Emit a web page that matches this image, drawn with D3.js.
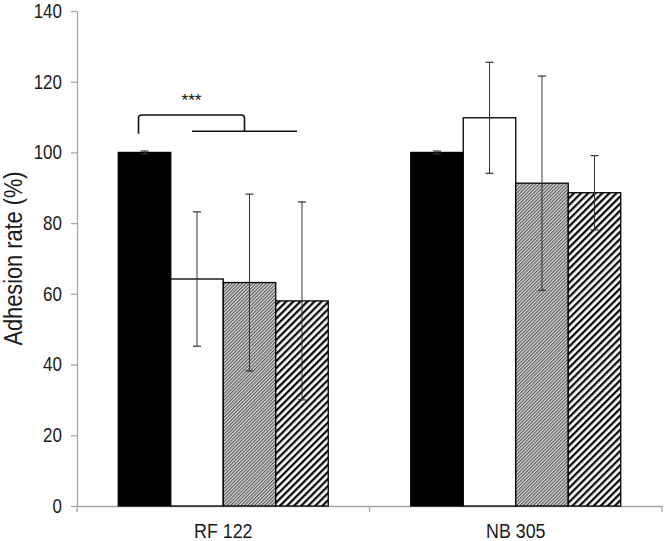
<!DOCTYPE html>
<html>
<head>
<meta charset="utf-8">
<script src="https://cdn.jsdelivr.net/npm/d3@7"></script>
<style>
  body { margin: 0; background: #fff; }
  text { font-family: "Liberation Sans", Arial, sans-serif; }
</style>
</head>
<body>
<div id="chart"></div>
<script>
const categories = ['RF 122', 'NB 305']
const series = ['black', 'white', 'gray', 'hatched']
const meansRF = [100, 64.2, 63.2, 58.0]
const meansNB = [100, 109.8, 91.3, 88.6]
const errRF = [0.4, 19.0, 25.0, 28.0]
const errNB = [0.4, 15.7, 30.3, 10.5]
const yTicks = [0, 20, 40, 60, 80, 100, 120, 140]

const width = 666
const height = 541
const margin = { top: 11, right: 4, bottom: 35, left: 77 }
const narrow = 0.85 // fake a condensed face

const rows = [
  { cat: categories[0], means: meansRF, errs: errRF },
  { cat: categories[1], means: meansNB, errs: errNB }
]

const svg = d3.select('#chart')
  .append('svg')
  .attr('width', width)
  .attr('height', height)

// patterns for the two striped bars
const defs = svg.append('defs')
const fine = defs.append('pattern')
  .attr('id', 'fine')
  .attr('patternUnits', 'userSpaceOnUse')
  .attr('width', 2.4)
  .attr('height', 10)
  .attr('patternTransform', 'rotate(45)')
fine.append('rect').attr('width', 2.4).attr('height', 10).attr('fill', '#e4e4e4')
fine.append('line').attr('x1', 0.6).attr('x2', 0.6).attr('y1', 0).attr('y2', 10)
  .attr('stroke', '#3a3a3a').attr('stroke-width', 1)

const coarse = defs.append('pattern')
  .attr('id', 'coarse')
  .attr('patternUnits', 'userSpaceOnUse')
  .attr('width', 5)
  .attr('height', 10)
  .attr('patternTransform', 'rotate(45)')
coarse.append('rect').attr('width', 5).attr('height', 10).attr('fill', '#fff')
coarse.append('line').attr('x1', 1.2).attr('x2', 1.2).attr('y1', 0).attr('y2', 10)
  .attr('stroke', '#000').attr('stroke-width', 2.2)

const fills = { black: '#000', white: '#fff', gray: 'url(#fine)', hatched: 'url(#coarse)' }

const x0 = d3.scaleBand()
  .domain(categories)
  .range([margin.left, width - margin.right])
  .padding(0)

const x1 = d3.scaleBand()
  .domain(series)
  .range([0, x0.bandwidth()])
  .paddingInner(0)
  .paddingOuter(0.786)

const y = d3.scaleLinear()
  .domain([0, 140])
  .range([height - margin.bottom, margin.top])

// axes
const yAxis = svg.append('g')
  .attr('transform', `translate(${margin.left},0)`)
  .call(d3.axisLeft(y).tickValues(yTicks).tickSize(6).tickSizeOuter(0).tickPadding(15 / narrow - 6))
yAxis.select('.domain').attr('stroke', '#a6a6a6').attr('stroke-width', 1.3)
yAxis.selectAll('.tick line').attr('stroke', '#a6a6a6').attr('stroke-width', 1.3)
yAxis.selectAll('.tick text')
  .attr('font-size', 20)
  .attr('fill', '#1a1a1a')
  .attr('transform', `scale(${narrow},1)`)

const xAxis = svg.append('g')
  .attr('transform', `translate(0,${y(0)})`)
  .call(d3.axisBottom(x0).tickSize(0).tickSizeOuter(0).tickPadding(17))
xAxis.select('.domain').attr('stroke', '#a6a6a6').attr('stroke-width', 1.3)
xAxis.selectAll('.tick text')
  .attr('font-size', 21)
  .attr('fill', '#1a1a1a')
  .attr('transform', `scale(${narrow},1)`)

// category separators on the x axis
const seps = [x0(categories[0]), x0(categories[1]), x0(categories[1]) + x0.bandwidth()]
svg.append('g').selectAll('line')
  .data(seps)
  .enter()
  .append('line')
  .attr('x1', d => d).attr('x2', d => d)
  .attr('y1', y(0)).attr('y2', y(0) + 6)
  .attr('stroke', '#a6a6a6').attr('stroke-width', 1.3)

svg.append('text')
  .attr('transform', `translate(22,${(y(0) + y(140)) / 2}) rotate(-90) scale(0.87,1)`)
  .attr('text-anchor', 'middle')
  .attr('font-size', 25)
  .attr('fill', '#1a1a1a')
  .text('Adhesion rate (%)')

// bars
const group = svg.selectAll('.grp')
  .data(rows)
  .enter()
  .append('g')
  .attr('class', 'grp')
  .attr('transform', d => `translate(${x0(d.cat)},0)`)

const bar = group.selectAll('.bar')
  .data(d => series.map((s, i) => ({ s, v: d.means[i], e: d.errs[i] })))
  .enter()
  .append('g')

bar.append('rect')
  .attr('x', d => x1(d.s))
  .attr('y', d => y(d.v))
  .attr('width', x1.bandwidth())
  .attr('height', d => y(0) - y(d.v))
  .attr('fill', d => fills[d.s])
  .attr('stroke', '#000')
  .attr('stroke-width', 1.3)

// error bars
const cap = 4
bar.append('line')
  .attr('x1', d => x1(d.s) + x1.bandwidth() / 2)
  .attr('x2', d => x1(d.s) + x1.bandwidth() / 2)
  .attr('y1', d => y(d.v - d.e))
  .attr('y2', d => y(d.v + d.e))
  .attr('stroke', '#333').attr('stroke-width', 1)
bar.selectAll('.cap')
  .data(d => [d.v - d.e, d.v + d.e].map(v => ({ s: d.s, v })))
  .enter()
  .append('line')
  .attr('x1', d => x1(d.s) + x1.bandwidth() / 2 - cap)
  .attr('x2', d => x1(d.s) + x1.bandwidth() / 2 + cap)
  .attr('y1', d => y(d.v))
  .attr('y2', d => y(d.v))
  .attr('stroke', '#333').attr('stroke-width', 1.2)

// significance bracket
const c = s => x0(categories[0]) + x1(s) + x1.bandwidth() / 2
const lineL = c('white') - 5
const lineR = c('hatched') - 5
const midX = (lineL + lineR) / 2
const leftX = c('black') - 6
const yTop = y(110.6)
const yLow = y(106)
const yLeftEnd = y(105.3)
const r = 3
svg.append('path')
  .attr('d', `M${leftX},${yLeftEnd} V${yTop + r} Q${leftX},${yTop} ${leftX + r},${yTop} H${midX - r} Q${midX},${yTop} ${midX},${yTop + r} V${yLow}`)
  .attr('fill', 'none').attr('stroke', '#111').attr('stroke-width', 1.6)
svg.append('line')
  .attr('x1', lineL).attr('x2', lineR)
  .attr('y1', yLow).attr('y2', yLow)
  .attr('stroke', '#111').attr('stroke-width', 1.6)
svg.append('text')
  .attr('x', (leftX + midX) / 2)
  .attr('y', y(110.6) - 9)
  .attr('text-anchor', 'middle')
  .attr('font-size', 17)
  .attr('fill', '#111')
  .text('***')
</script>
</body>
</html>
